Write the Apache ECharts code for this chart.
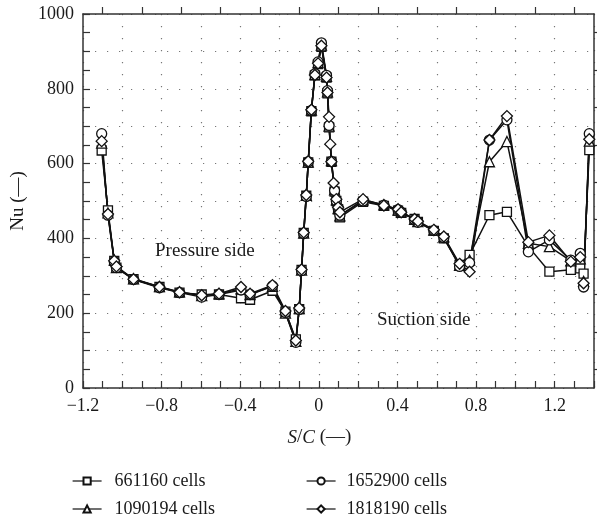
<!DOCTYPE html>
<html>
<head>
<meta charset="utf-8">
<script src="https://cdn.jsdelivr.net/npm/echarts@6/dist/echarts.min.js"></script>
<style>
  html, body { margin: 0; padding: 0; background: #fff; }
  #chart { width: 597px; height: 525px; }
</style>
</head>
<body>
<div id="chart"></div>
<script>
// S/C positions shared by every mesh (null = no point for that mesh)
var sc = [-1.105, -1.073, -1.041, -1.030, -0.943, -0.811, -0.709, -0.596, -0.508, -0.396,
          -0.350, -0.236, -0.170, -0.117, -0.100, -0.088, -0.077, -0.064, -0.054, -0.038,
          -0.020, -0.004, 0.013, 0.039, 0.044, 0.052, 0.058, 0.064, 0.075, 0.080,
          0.089, 0.098, 0.107, 0.225, 0.331, 0.403, 0.419, 0.487, 0.504, 0.585,
          0.636, 0.716, 0.767, 0.868, 0.957, 1.066, 1.173, 1.282, 1.330, 1.347, 1.376];

var cells661160 = [635, 475, 340, 322, 291, 270, 255, 250, 250, 240,
                   236, 260, 204, 130, 211, 316, 415, 514, 603, 740,
                   836, 866, 912, 830, 788, 697, null, 605, null, 525,
                   500, 478, 456, 498, 487, 474, 468, 452, 444, 420,
                   400, 329, 356, 462, 471, 378, 311, 316, 320, 306, 636];

var cells1090194 = [655, 468, 342, 322, 292, 271, 257, 247, 252, 265,
                    250, 272, 200, 125, 212, 315, 414, 515, 604, 743,
                    838, 870, 917, 833, 792, 700, null, 608, null, 530,
                    503, 480, 460, 503, 490, 476, 471, 451, 445, 422,
                    404, 328, 342, 605, 659, 387, 378, 340, 345, 285, 660];

var cells1652900 = [680, 462, 338, 322, 290, 268, 255, 243, 250, 262,
                    250, 273, 202, 122, 210, 314, 413, 512, 605, 742,
                    840, 872, 923, 836, 795, 702, null, 606, null, 528,
                    500, 482, 462, 500, 489, 477, 470, 450, 443, 421,
                    402, 325, 335, 663, 717, 364, 396, 342, 360, 270, 680];

var cells1818190 = [660, 465, 340, 325, 291, 270, 256, 248, 252, 270,
                    252, 275, 206, 127, 214, 317, 416, 516, 606, 744,
                    837, 868, 915, 830, 790, 725, 652, 605, 548, null,
                    505, 483, 470, 505, 488, 478, 470, 452, 446, 423,
                    405, 332, 311, 663, 727, 390, 408, 338, 350, 280, 665];

var xLabels = ['-1.2', '-0.8', '-0.4', '0', '0.4', '0.8', '1.2'];
var yLabels = ['0', '200', '400', '600', '800', '1000'];

var FONT = '"Liberation Serif", "DejaVu Serif", serif';
var INK = '#111';
var AXIS = '#333';
var TXT = '#1a1a1a';

function pts(vals) {
    return sc.map(function (x, i) { return [x, vals[i]]; })
             .filter(function (p) { return p[1] !== null; });
}

function fmtX(v) {
    var s = (Math.round(v * 10) / 10).toString();
    if (xLabels.indexOf(s) < 0) return '';
    return s.replace('-', '\u2212');
}
function fmtY(v) {
    var s = String(Math.round(v));
    return yLabels.indexOf(s) < 0 ? '' : s;
}

var tickStyle = { color: AXIS, width: 1.2 };
var gridStyle = { color: '#777', width: 1.2, type: [1.2, 10.8] };

function mkSeries(name, data, symbol, size) {
    return {
        name: name,
        type: 'line',
        xAxisIndex: 0,
        yAxisIndex: 0,
        data: pts(data),
        symbol: symbol,
        symbolSize: size,
        showAllSymbol: true,
        lineStyle: { color: INK, width: 1.5 },
        itemStyle: { color: '#fff', borderColor: INK, borderWidth: 1.3 },
        emphasis: { disabled: true },
        animation: false
    };
}

var myChart = echarts.init(document.getElementById('chart'), null, { renderer: 'canvas' });

var option = {
    backgroundColor: '#fff',
    animation: false,
    grid: { left: 83, top: 14, right: 0, bottom: 137 },
    legend: [{
        data: ['661160 cells', '1090194 cells'],
        orient: 'vertical',
        left: 72, top: 472, padding: 0,
        itemWidth: 29, itemHeight: 9, itemGap: 10,
        lineStyle: { width: 1.2 },
        textStyle: { fontFamily: FONT, fontSize: 18, color: TXT, padding: [0, 0, 0, 8] }
    }, {
        data: ['1652900 cells', '1818190 cells'],
        orient: 'vertical',
        left: 306, top: 472, padding: 0,
        itemWidth: 29, itemHeight: 9, itemGap: 10,
        lineStyle: { width: 1.2 },
        textStyle: { fontFamily: FONT, fontSize: 18, color: TXT, padding: [0, 0, 0, 6] }
    }],
    xAxis: [{
        type: 'value', position: 'bottom',
        min: -1.2, max: 1.4, interval: 0.2,
        name: '{i|S}/{i|C} (\u2014)',
        nameLocation: 'middle', nameGap: 40,
        nameTextStyle: {
            fontFamily: FONT, fontSize: 19, color: TXT,
            padding: [0, 38, 0, 0],
            rich: { i: { fontFamily: FONT, fontSize: 19, fontStyle: 'italic', color: TXT } }
        },
        axisLine: { show: true, onZero: false, lineStyle: { color: AXIS, width: 1.5 } },
        axisTick: { show: true, inside: true, length: 7, lineStyle: tickStyle },
        minorTick: { show: true, splitNumber: 2, length: 7, lineStyle: tickStyle },
        axisLabel: { formatter: fmtX, fontFamily: FONT, fontSize: 18, color: TXT, margin: 9, showMaxLabel: true },
        splitLine: { show: true, lineStyle: gridStyle }
    }, {
        type: 'value', position: 'top',
        min: -1.2, max: 1.4, interval: 0.2,
        axisLine: { show: true, onZero: false, lineStyle: { color: AXIS, width: 1.5 } },
        axisTick: { show: false },
        minorTick: { show: true, splitNumber: 2, length: 7, lineStyle: tickStyle },
        axisLabel: { show: false },
        splitLine: { show: false }
    }],
    yAxis: [{
        type: 'value', position: 'left',
        min: 0, max: 1000, interval: 100,
        name: 'Nu (\u2014)',
        nameLocation: 'middle', nameGap: 54,
        nameTextStyle: { fontFamily: FONT, fontSize: 19, color: TXT },
        axisLine: { show: true, onZero: false, lineStyle: { color: AXIS, width: 1.5 } },
        axisTick: { show: true, inside: true, length: 7, lineStyle: tickStyle },
        minorTick: { show: true, splitNumber: 2, length: 7, lineStyle: tickStyle },
        axisLabel: { formatter: fmtY, fontFamily: FONT, fontSize: 18, color: TXT, margin: 9 },
        splitLine: { show: true, lineStyle: gridStyle }
    }, {
        type: 'value', position: 'right',
        min: 0, max: 1000, interval: 100,
        axisLine: { show: true, onZero: false, lineStyle: { color: AXIS, width: 1.5 } },
        axisTick: { show: false },
        minorTick: { show: true, splitNumber: 2, length: 7, lineStyle: tickStyle },
        axisLabel: { show: false },
        splitLine: { show: false }
    }],
    graphic: [{
        type: 'text', left: 155, top: 242,
        style: { text: 'Pressure side', font: '19px ' + FONT, fill: TXT }
    }, {
        type: 'text', left: 377, top: 311,
        style: { text: 'Suction side', font: '19px ' + FONT, fill: TXT }
    }],
    series: [
        mkSeries('661160 cells', cells661160, 'rect', 9),
        mkSeries('1090194 cells', cells1090194, 'triangle', 10),
        mkSeries('1652900 cells', cells1652900, 'circle', 10),
        mkSeries('1818190 cells', cells1818190, 'diamond', 11)
    ]
};

myChart.setOption(option);
</script>
</body>
</html>
